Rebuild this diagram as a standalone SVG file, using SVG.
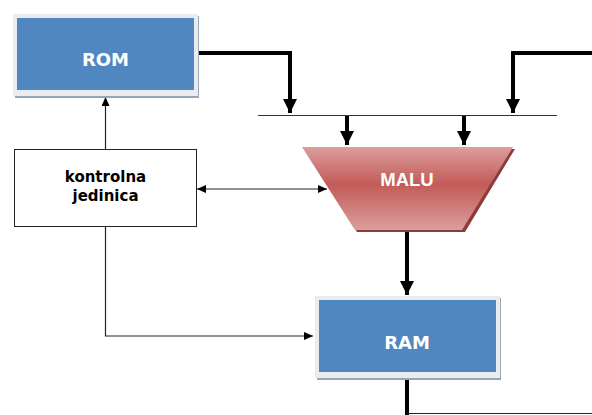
<svg xmlns="http://www.w3.org/2000/svg" width="592" height="415" viewBox="0 0 592 415">
<style>
.frame{fill:#e9edf0;}
.shadow{fill:#97a6b6;}
.blue{fill:#5087c0;}
.lbl{font-family:"DejaVu Sans",Verdana,sans-serif;font-weight:bold;fill:#fff;text-anchor:middle;font-size:18px;}
.klbl{font-family:"DejaVu Sans",Verdana,sans-serif;font-weight:bold;fill:#000;text-anchor:middle;font-size:15px;}
.thick{stroke:#000;stroke-width:4;fill:none;}
.thin{stroke:#222;stroke-width:1.2;fill:none;}
</style>
<defs>
<marker id="big" markerUnits="userSpaceOnUse" markerWidth="14" markerHeight="14" viewBox="0 0 14 14" refX="14" refY="7" orient="auto">
<path d="M0,0 L14,7 L0,14 Z" fill="#000"/>
</marker>
<marker id="small" markerUnits="userSpaceOnUse" markerWidth="9" markerHeight="8" viewBox="0 0 9 8" refX="9" refY="4" orient="auto-start-reverse">
<path d="M0,0 L9,4 L0,8 Z" fill="#000"/>
</marker>
<linearGradient id="red" x1="0" y1="0" x2="0" y2="1">
<stop offset="0" stop-color="#dc9e9c"/>
<stop offset="0.45" stop-color="#c25b58"/>
<stop offset="1" stop-color="#dc9e9c"/>
</linearGradient>
</defs>
<g id="connectors">
<polyline class="thick" points="198,53 290,53 290,113" marker-end="url(#big)"/>
<polyline class="thick" points="592,53 513,53 513,113" marker-end="url(#big)"/>
<line x1="258" y1="115.5" x2="557" y2="115.5" stroke="#333" stroke-width="1"/>
<line class="thick" x1="347" y1="116" x2="347" y2="145" marker-end="url(#big)"/>
<line class="thick" x1="464" y1="116" x2="464" y2="145" marker-end="url(#big)"/>
<line class="thick" x1="407" y1="231" x2="407" y2="295" marker-end="url(#big)"/>
<line class="thin" x1="105.5" y1="149" x2="105.5" y2="97" marker-end="url(#small)"/>
<line class="thin" x1="197" y1="189" x2="327" y2="189" marker-start="url(#small)" marker-end="url(#small)"/>
<polyline class="thin" points="105.5,227 105.5,336 313,336" marker-end="url(#small)"/>
<line class="thick" x1="407" y1="380" x2="407" y2="415"/>
<line x1="407" y1="413.5" x2="592" y2="413.5" stroke="#222" stroke-width="1.2"/>
</g>
<g id="rom">
<rect class="shadow" x="15" y="16" width="184" height="82"/>
<rect class="frame" x="13" y="14" width="185" height="82"/>
<rect class="blue" x="17" y="18" width="177" height="72"/>
<text class="lbl" x="105.5" y="65.5">ROM</text>
</g>
<g id="kontrolna">
<rect x="14.5" y="149.5" width="182" height="77" fill="#fff" stroke="#222" stroke-width="1"/>
<text class="klbl" x="105.5" y="182">kontrolna</text>
<text class="klbl" x="105.5" y="201">jedinica</text>
</g>
<g id="malu">
<polygon points="304,149 515,149 465,232 357,232" fill="#8c3c3a"/>
<polygon points="302,147 513,147 462,230 355,230" fill="url(#red)"/>
<text x="407" y="186" font-family="'Liberation Sans',Arial,sans-serif" font-weight="bold" font-size="18.5" fill="#fff" text-anchor="middle">MALU</text>
</g>
<g id="ram">
<rect class="shadow" x="317" y="298" width="184" height="82"/>
<rect class="frame" x="315" y="296" width="185" height="82"/>
<rect class="blue" x="319" y="300" width="177" height="72"/>
<text class="lbl" x="407" y="348.5">RAM</text>
</g>
</svg>
